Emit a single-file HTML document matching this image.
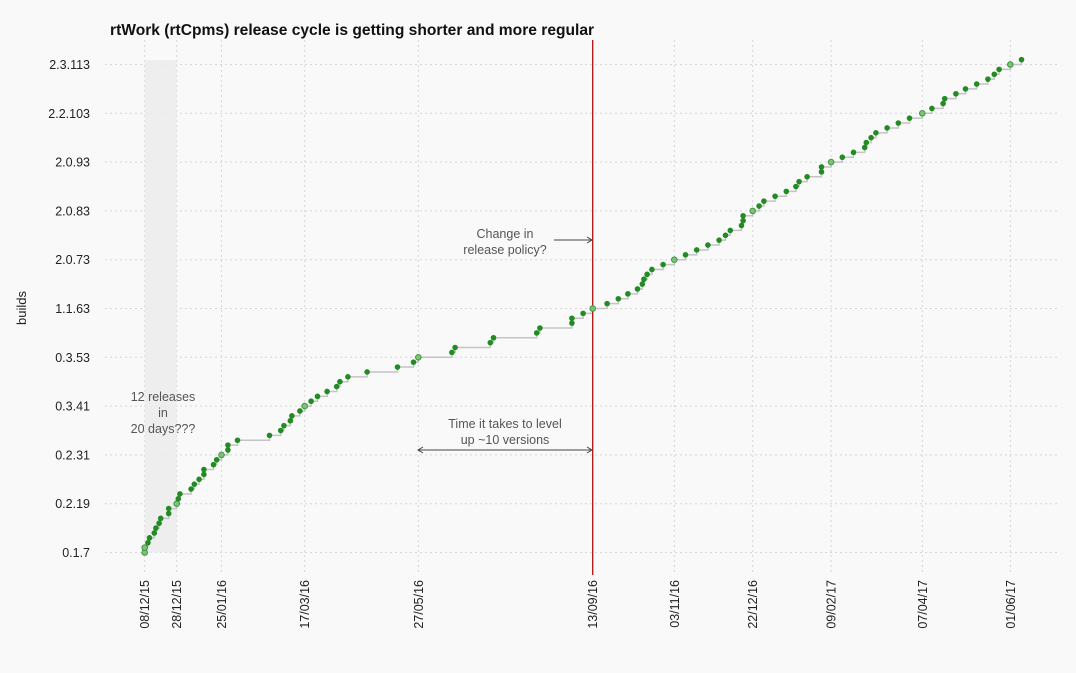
<!DOCTYPE html>
<html><head><meta charset="utf-8"><style>
html,body{margin:0;padding:0;background:#f9f9f9;}
svg{display:block;font-family:"Liberation Sans",sans-serif;}
</style></head><body>
<svg id="chart" width="1076" height="673">
<rect x="0" y="0" width="1076" height="673" fill="#f9f9f9"/>
<text x="110" y="35" font-size="15.6" font-weight="bold" fill="#111">rtWork (rtCpms) release cycle is getting shorter and more regular</text>
<text transform="translate(26,308) rotate(-90)" text-anchor="middle" font-size="13" fill="#222">builds</text>
<g id="grid"></g>
<rect id="shade" fill="#ececec" opacity="0.85"/>
<g id="marks"></g>
<g id="annot"></g>
</svg>
<script>
// data: days since 08/12/15 for each build index (0..101)
const releaseDays = [0,0,2,3,6,7,9,10,15,15,20,21,22,29,31,34,37,37,43,45,48,52,52,58,78,85,87,91,92,97,100,104,108,114,120,122,127,139,158,168,171,192,194,216,218,245,247,267,267,274,280,289,296,302,308,311,312,314,317,324,331,338,345,352,359,363,366,373,374,374,380,384,387,394,401,407,409,414,423,423,429,436,443,450,451,454,457,464,471,478,486,492,499,500,507,513,520,527,531,534,541,548];
const xTickDays = [0,20,48,100,171,280,331,380,429,486,541];
const xTickLabels = ["08/12/15","28/12/15","25/01/16","17/03/16","27/05/16","13/09/16","03/11/16","22/12/16","09/02/17","07/04/17","01/06/17"];
const yTickIdx = [0,10,20,30,40,50,60,70,80,90,100];
const yTickLabels = ["0.1.7","0.2.19","0.2.31","0.3.41","0.3.53","1.1.63","2.0.73","2.0.83","2.0.93","2.2.103","2.3.113"];

const NS="http://www.w3.org/2000/svg";
const X = d => 144.7 + 1.6*d;
const Y = i => 552.5 - 4.88*i;
function mk(tag, attrs, parent){const e=document.createElementNS(NS,tag);for(const k in attrs)e.setAttribute(k,attrs[k]);parent.appendChild(e);return e;}
const grid=document.getElementById('grid'), marks=document.getElementById('marks'), annot=document.getElementById('annot');

yTickIdx.forEach((v,i)=>{
  const l=mk('line',{x1:105,x2:1058,y1:Y(v),y2:Y(v),stroke:'#d6d6d6','stroke-dasharray':'2,3'},grid);
  
  
  const t=mk('text',{x:90,y:Y(v)+4.5,'text-anchor':'end','font-size':'12.5',fill:'#222'},grid);
  t.textContent=yTickLabels[i];
  
  
});
xTickDays.forEach((d,i)=>{
  const l=mk('line',{x1:X(d),x2:X(d),y1:40,y2:575,stroke:'#d6d6d6','stroke-dasharray':'2,3'},grid);
  
  
  const t=mk('text',{transform:`translate(${X(d)+4.5},580) rotate(-90)`,'text-anchor':'end','font-size':'12.5',fill:'#222'},grid);
  t.textContent=xTickLabels[i];
  
  
});
const sh=document.getElementById('shade');
sh.setAttribute('x',X(xTickDays[0]));sh.setAttribute('width',X(xTickDays[1])-X(xTickDays[0]));
sh.setAttribute('y',60);sh.setAttribute('height',Y(0)-60);

let p='M'+X(releaseDays[0])+','+Y(0);
for(let i=1;i<releaseDays.length;i++){p+=' H'+X(releaseDays[i])+' V'+Y(i);}
const st=mk('path',{d:p,fill:'none',stroke:'#c4c4c4','stroke-width':1.5},marks);



const red=mk('line',{x1:X(280),x2:X(280),y1:40,y2:575,stroke:'#b01010','stroke-width':1.3},marks);



releaseDays.forEach((d,i)=>{
  const isTick=xTickDays.includes(d)&&(i===0||releaseDays[i-1]!==d||d===0);
  const c=mk('circle',{cx:X(d),cy:Y(i),r:2.8,fill:isTick?'#7fbf7f':'#228b22',stroke:isTick?'#3a9a3a':'none','stroke-width':1},marks);
  
  
});

function txt(lines,x,y,name){lines.forEach((s,k)=>{const t=mk('text',{x:x,y:y+k*16,'text-anchor':'middle','font-size':'12.5',fill:'#555'},annot);t.textContent=s;});}
txt(["12 releases","in","20 days???"],163,401,'annotation-12-releases');
txt(["Change in","release policy?"],505,238,'annotation-policy');
txt(["Time it takes to level","up ~10 versions"],505,428,'annotation-level-up');
const a1=mk('path',{d:'M554,240 H592 M587,237 L592,240 L587,243',fill:'none',stroke:'#444','stroke-width':1},annot);


const a2=mk('path',{d:'M418,450 H592 M587,447 L592,450 L587,453 M423,447 L418,450 L423,453',fill:'none',stroke:'#444','stroke-width':1},annot);


</script>
</body></html>
